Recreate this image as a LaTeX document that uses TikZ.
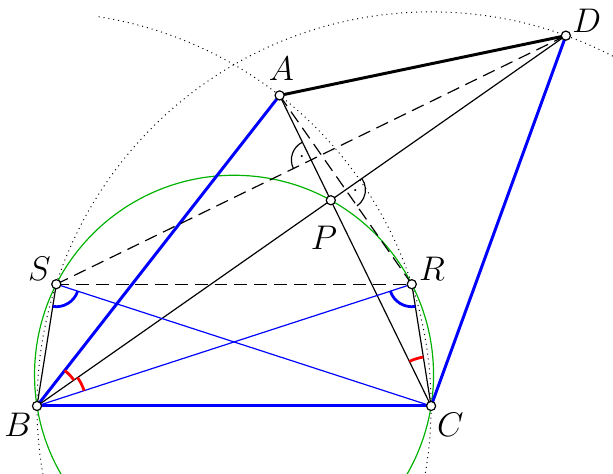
\documentclass[tikz,border=0pt]{standalone}
\usepackage{amsmath}
\usetikzlibrary{angles}

\begin{document}
\begin{tikzpicture}[line width=0.6pt,
        pnt/.style={circle, draw, fill=white, inner sep=0pt, minimum size=4.6pt, line width=0.6pt},
        lbl/.style={font=\fontsize{16}{19}\selectfont},
        thickblue/.style={blue, line width=1.5pt},
        thinblue/.style={blue, line width=0.6pt},
        dashline/.style={dash pattern=on 6.5pt off 3.5pt},
        eqangle/.style={draw=red, line width=1.4pt},
        baseangle/.style={draw=blue, line width=1.4pt, angle radius=0.4cm},
        rightmark/.style={draw, angle radius=0.35cm, pic text=$\cdot$, angle eccentricity=0.5}]
        \useasboundingbox (-0.657,-1.208) rectangle (10.231,7.211);
        \clip (-0.657,-1.208) rectangle (10.231,7.211);

        \coordinate (B) at (0,0);
        \coordinate (C) at (7,0);
        \coordinate (A) at (52:7);
        \coordinate (D) at ([shift={(70:7)}]C);
        \coordinate (P) at (intersection of B--D and A--C);
        \coordinate (O) at (3.5,0.5543);
        \coordinate (S) at (0.3428,2.1632);
        \coordinate (R) at (6.6573,2.1632);
        \coordinate (X) at (intersection of S--D and A--C);
        \coordinate (Y) at (intersection of B--D and A--R);

        \draw [dotted, line width=0.5pt] (B) ++(81:7) arc (81:-12:7);
        \draw [dotted, line width=0.5pt] (C) circle (7);
        \draw [green!70!black] (O) circle (3.5436);

        \draw [line width=1.5pt] (A) -- (D);
        \draw [thickblue] (B) -- (A);
        \draw [thickblue] (B) -- (C);
        \draw [thickblue] (C) -- (D);
        \draw (B) -- (D);
        \draw (A) -- (C);
        \draw (S) -- (B);
        \draw (R) -- (C);
        \draw [dashline] (S) -- (D);
        \draw [dashline] (S) -- (R);
        \draw [dashline] (A) -- (R);
        \draw [thinblue] (S) -- (C);
        \draw [thinblue] (B) -- (R);

        \pic [eqangle, angle radius=0.8cm] {angle = D--B--A};
        \pic [eqangle, angle radius=0.88cm] {angle = R--B--D};
        \pic [eqangle, angle radius=0.88cm] {angle = R--C--A};
        \pic [baseangle] {angle = B--S--C};
        \pic [baseangle] {angle = B--R--C};
        \pic [rightmark] {angle = A--X--S};
        \pic [rightmark] {angle = R--Y--D};

        \foreach \p in {A,B,C,D,P,S,R}
            \node [pnt] (n\p) at (\p) {};

        \node [lbl] (lA) at ([shift={(0.03,0.48)}]A) {$A$};
        \node [lbl] (lB) at ([shift={(-0.34,-0.34)}]B) {$B$};
        \node [lbl] (lC) at ([shift={(0.34,-0.33)}]C) {$C$};
        \node [lbl] (lD) at ([shift={(0.37,0.27)}]D) {$D$};
        \node [lbl] (lP) at ([shift={(-0.12,-0.66)}]P) {$P$};
        \node [lbl] (lS) at ([shift={(-0.30,0.28)}]S) {$S$};
        \node [lbl] (lR) at ([shift={(0.36,0.27)}]R) {$R$};
    \end{tikzpicture}
\end{document}
